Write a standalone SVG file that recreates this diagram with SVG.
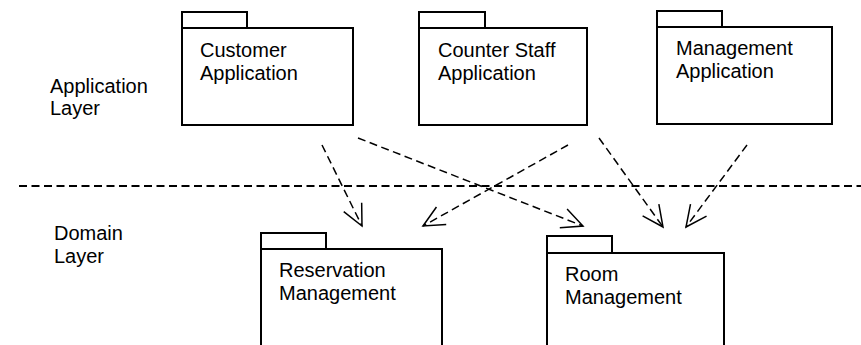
<svg xmlns="http://www.w3.org/2000/svg" width="861" height="345" viewBox="0 0 861 345">
<style>
.box{fill:#fff;stroke:#000;stroke-width:2}
.t{font-family:"Liberation Sans",Arial,sans-serif;font-size:20px;fill:#000}
.dep{fill:none;stroke:#000;stroke-width:1.5;stroke-dasharray:8,4.5}
.sep{fill:none;stroke:#000;stroke-width:2;stroke-dasharray:8,4.5}
</style>
<defs>
<marker id="arr" markerUnits="userSpaceOnUse" markerWidth="30" markerHeight="30" viewBox="-25 -15 30 30" refX="0" refY="0" orient="auto">
<path d="M-21,-10 L0,0 L-21,10" fill="none" stroke="#000" stroke-width="1.5"/>
</marker>
</defs>
<rect width="861" height="345" fill="#fff"/>
<g id="layers">
<text class="t" x="50" y="93">Application</text>
<text class="t" x="50" y="115">Layer</text>
<text class="t" x="54" y="240">Domain</text>
<text class="t" x="54" y="263">Layer</text>
<line x1="19" y1="186" x2="861" y2="186" class="sep"/>
</g>
<g id="customer">
<rect class="box" x="182" y="12" width="65" height="16"/>
<rect class="box" x="182" y="28" width="171" height="97"/>
<text class="t" x="200" y="57">Customer</text>
<text class="t" x="200" y="80">Application</text>
</g>
<g id="counter">
<rect class="box" x="419" y="12" width="66" height="16"/>
<rect class="box" x="419" y="28" width="168" height="97"/>
<text class="t" x="438" y="57">Counter Staff</text>
<text class="t" x="438" y="80">Application</text>
</g>
<g id="management">
<rect class="box" x="657" y="11" width="65" height="16"/>
<rect class="box" x="657" y="27" width="175" height="97"/>
<text class="t" x="676" y="55">Management</text>
<text class="t" x="676" y="78">Application</text>
</g>
<g id="reservation">
<rect class="box" x="261" y="233" width="65" height="16"/>
<rect class="box" x="261" y="249" width="181" height="120"/>
<text class="t" x="279" y="277">Reservation</text>
<text class="t" x="279" y="300">Management</text>
</g>
<g id="room">
<rect class="box" x="547" y="236" width="65" height="17"/>
<rect class="box" x="547" y="253" width="177" height="120"/>
<text class="t" x="565" y="281">Room</text>
<text class="t" x="565" y="304">Management</text>
</g>
<g id="connectors">
<line class="dep" x1="322" y1="145" x2="362" y2="226" marker-end="url(#arr)"/>
<line class="dep" x1="358" y1="138" x2="583" y2="226" marker-end="url(#arr)"/>
<line class="dep" x1="568" y1="145" x2="423" y2="226" marker-end="url(#arr)"/>
<line class="dep" x1="599" y1="138" x2="663" y2="227" marker-end="url(#arr)"/>
<line class="dep" x1="747" y1="145" x2="686" y2="227" marker-end="url(#arr)"/>
</g>
</svg>
